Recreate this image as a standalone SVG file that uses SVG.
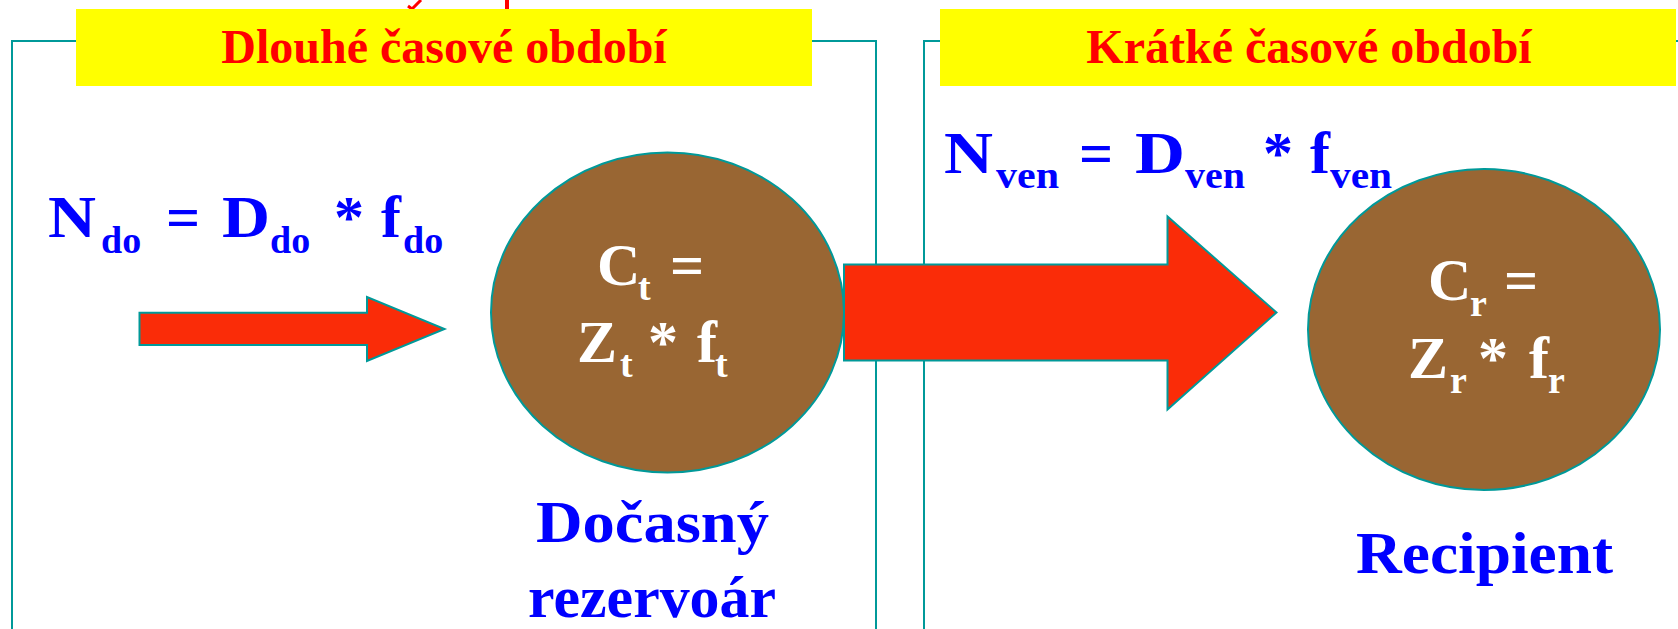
<svg xmlns="http://www.w3.org/2000/svg" width="1678" height="629" viewBox="0 0 1678 629">
  <style>
    .frame { fill: none; stroke: #009999; stroke-width: 2; }
    .banner { fill: #FFFF00; }
    .title { font-family: "Liberation Serif", "Times New Roman", serif; font-weight: bold; font-size: 48px; fill: #FF0000; text-anchor: middle; }
    .pool { fill: #996633; stroke: #009999; stroke-width: 2; }
    .flow { fill: #FA2C08; stroke: #009999; stroke-width: 2; }
    .f { font-family: "Liberation Serif", "Times New Roman", serif; font-weight: bold; font-size: 60px; fill: #0000FF; }
    .w { font-family: "Liberation Serif", "Times New Roman", serif; font-weight: bold; font-size: 60px; fill: #FFFFFF; }
    .s { font-size: 38px; }
    .lbl { font-family: "Liberation Serif", "Times New Roman", serif; font-weight: bold; font-size: 60px; fill: #0000FF; text-anchor: middle; }
  </style>
  <rect width="1678" height="629" fill="#FFFFFF"/>

  <!-- cut-off red fragments at the very top -->
  <g id="top-fragments" fill="none" stroke="#FF0000" stroke-width="3">
    <path d="M408,6 L412,9 L421,0"/>
    <rect x="505" y="0" width="4" height="9" fill="#FF0000" stroke="none"/>
  </g>

  <g id="frame-long">
    <path class="frame" d="M12,632 V41 H876 V632"/>
  </g>
  <g id="frame-short">
    <path class="frame" d="M924,632 V41 H1682"/>
  </g>

  <g id="header-long">
    <rect class="banner" x="76" y="9" width="736" height="77"/>
    <text class="title" x="444" y="62.5">Dlouhé časové období</text>
  </g>
  <g id="header-short">
    <rect class="banner" x="940" y="9" width="736" height="77"/>
    <text class="title" x="1309" y="62.5">Krátké časové období</text>
  </g>

  <g id="formula-in">
    <text class="f"><tspan x="48" y="237" textLength="48" lengthAdjust="spacingAndGlyphs">N</tspan><tspan class="s" x="101" y="253">do</tspan><tspan x="166" y="237">=</tspan><tspan x="222" y="237" textLength="48" lengthAdjust="spacingAndGlyphs">D</tspan><tspan class="s" x="270" y="253">do</tspan><tspan x="334" y="237">*</tspan><tspan x="381" y="237">f</tspan><tspan class="s" x="403" y="253">do</tspan></text>
  </g>

  <g id="formula-out">
    <text class="f"><tspan x="944" y="173" textLength="49" lengthAdjust="spacingAndGlyphs">N</tspan><tspan class="s" x="996" y="188" textLength="63" lengthAdjust="spacingAndGlyphs">ven</tspan><tspan x="1079" y="173">=</tspan><tspan x="1135" y="173" textLength="50" lengthAdjust="spacingAndGlyphs">D</tspan><tspan class="s" x="1185" y="188" textLength="60" lengthAdjust="spacingAndGlyphs">ven</tspan><tspan x="1263" y="173">*</tspan><tspan x="1310" y="173">f</tspan><tspan class="s" x="1330" y="188" textLength="62" lengthAdjust="spacingAndGlyphs">ven</tspan></text>
  </g>

  <g id="reservoir">
    <ellipse class="pool" cx="667.5" cy="312.5" rx="176.5" ry="160"/>
    <text class="w"><tspan x="597" y="285">C</tspan><tspan class="s" x="638" y="300">t</tspan><tspan x="670" y="285">=</tspan></text>
    <text class="w"><tspan x="577" y="362">Z</tspan><tspan class="s" x="620" y="377">t</tspan><tspan x="648" y="362">*</tspan><tspan x="697" y="362">f</tspan><tspan class="s" x="715" y="377">t</tspan></text>
    <text class="lbl" x="652.5" y="542" textLength="233" lengthAdjust="spacingAndGlyphs">Dočasný</text>
    <text class="lbl" x="652" y="617" textLength="248" lengthAdjust="spacingAndGlyphs">rezervoár</text>
  </g>

  <g id="recipient">
    <ellipse class="pool" cx="1484" cy="329.5" rx="176" ry="160.5"/>
    <text class="w"><tspan x="1428" y="300">C</tspan><tspan class="s" x="1470" y="316">r</tspan><tspan x="1504" y="300">=</tspan></text>
    <text class="w"><tspan x="1408" y="377.5">Z</tspan><tspan class="s" x="1450" y="393">r</tspan><tspan x="1478" y="377.5">*</tspan><tspan x="1529" y="377.5">f</tspan><tspan class="s" x="1548" y="393">r</tspan></text>
    <text class="lbl" x="1484.5" y="573" textLength="257" lengthAdjust="spacingAndGlyphs">Recipient</text>
  </g>

  <g id="connectors">
    <polygon class="flow" points="139.5,312.7 367,312.7 367,297 444.5,329 367,361 367,345 139.5,345"/>
    <polygon class="flow" points="844,264.5 1167.5,264.5 1167.5,216.5 1276.5,312.5 1167.5,409.5 1167.5,360.5 844,360.5"/>
  </g>
</svg>
